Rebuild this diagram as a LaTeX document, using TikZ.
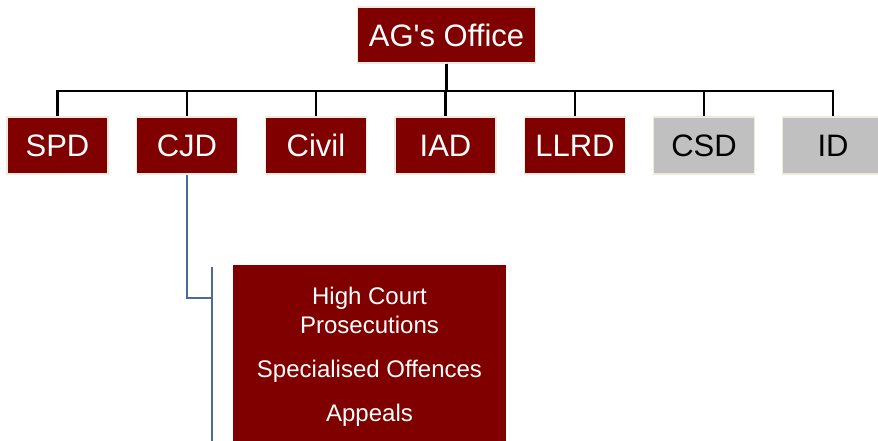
\documentclass[tikz,border=0pt]{standalone}
\usepackage{fontspec}
\setmainfont{Liberation Sans}
\newfontfamily\boxfont{Liberation Sans}
\definecolor{boxred}{HTML}{800000}
\definecolor{boxgrey}{HTML}{C0C0C0}
\definecolor{rim}{HTML}{EEEAE0}
\definecolor{linkblue}{HTML}{4A6A9C}
\tikzset{
  unitbox/.style={draw=rim, line width=1.5pt, fill=boxred, text=white, minimum width=101pt, minimum height=57pt, inner sep=0pt, font=\boxfont\fontsize{31}{36}\selectfont},
  greybox/.style={unitbox, fill=boxgrey, text=black},
  topbox/.style={unitbox, minimum width=178pt, minimum height=56pt},
  subbox/.style={fill=boxred, minimum width=273pt, minimum height=190pt, inner sep=0pt},
  subtext/.style={text=white, align=center, inner sep=0pt, font=\boxfont\fontsize{24}{29}\selectfont},
  orgline/.style={black, line width=2.2pt},
  blueline/.style={linkblue, line width=2.4pt}
}
\begin{document}
\begin{tikzpicture}[x=1pt,y=1pt]
\useasboundingbox (0,0) rectangle (878,-440);
\clip (0,0) rectangle (878,-440);
\node[topbox] (ag) at (446.5,-35) {AG's Office};
\node[unitbox] (spd) at (57.5,-145.5) {SPD};
\node[unitbox] (cjd) at (187,-145.5) {CJD};
\node[unitbox] (civ) at (316,-145.5) {Civil};
\node[unitbox] (iad) at (445.5,-145.5) {IAD};
\node[unitbox] (llrd) at (575,-145.5) {LLRD};
\node[greybox] (csd) at (704,-145.5) {CSD};
\node[greybox] (id) at (833,-145.5) {ID};
\foreach \n in {spd,cjd,civ,iad,llrd,csd,id}{
  \draw[orgline] (ag.south) -- ++(0,-27) -| (\n.north);
}
\node[subbox, anchor=north] (sub) at (369.5,-265) {};
\node[subtext, anchor=north] (subt) at (369.5,-286.5) {High Court\\Prosecutions\\[15pt]Specialised Offences\\[15pt]Appeals};
\coordinate (bj) at (212,-298);
\coordinate (bt) at (212,-267);
\coordinate (bb) at (212,-445);
\draw[blueline] (cjd.south) |- (bj);
\draw[blueline] (bt) -- (bb);
\end{tikzpicture}
\end{document}
